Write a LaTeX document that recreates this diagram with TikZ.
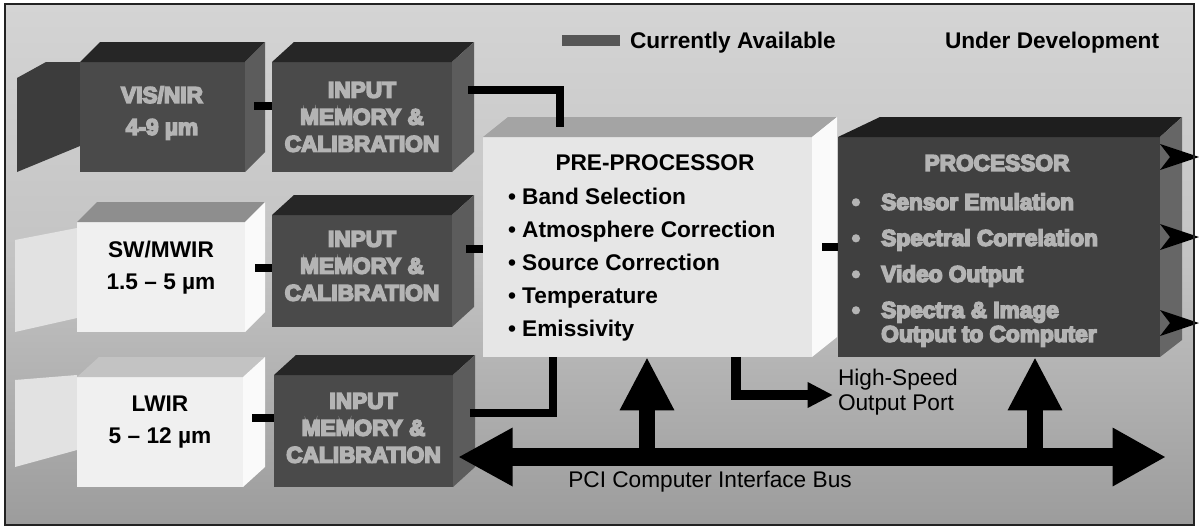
\documentclass[tikz,border=0pt]{standalone}
\usepackage{fontspec}
\setmainfont{Liberation Sans}
\usetikzlibrary{calc,arrows.meta}
\definecolor{bgtop}{HTML}{D4D4D4}
\definecolor{bgmid}{HTML}{C3C3C3}
\definecolor{bgbot}{HTML}{9C9C9C}
\definecolor{framec}{HTML}{222222}
\definecolor{dkfront}{HTML}{4A4A4A}
\definecolor{dktop}{HTML}{262626}
\definecolor{dkside}{HTML}{5C5C5C}
\definecolor{lensdark}{HTML}{3C3C3C}
\definecolor{ltfront}{HTML}{F0F0F0}
\definecolor{lttop}{HTML}{8E8E8E}
\definecolor{ltside}{HTML}{FAFAFA}
\definecolor{lenslight}{HTML}{E2E2E2}
\definecolor{prefront}{HTML}{E6E6E6}
\definecolor{pretop}{HTML}{A4A4A4}
\definecolor{procfront}{HTML}{404040}
\definecolor{proctop}{HTML}{1E1E1E}
\definecolor{procside}{HTML}{666666}
\definecolor{embfill}{HTML}{B4B4B4}
\definecolor{swatchc}{HTML}{565656}
\newcommand\boldf{\fontsize{17}{20.25}\selectfont\bfseries}
\newcommand\camf{\fontsize{17}{24}\selectfont\bfseries}
\newcommand\listf{\fontsize{17}{24.75}\selectfont\bfseries}
\newcommand\procf{\fontsize{17}{18}\selectfont\bfseries}
\newcommand\plainf{\fontsize{17}{18.75}\selectfont}
\newcommand\cubefaces[5]{%
  \fill[#2] (#1.north west) -- ($(#1.north west)+(#4,-#5)$) -- ($(#1.north east)+(#4,-#5)$) -- (#1.north east) -- cycle;
  \fill[#3] (#1.north east) -- ($(#1.north east)+(#4,-#5)$) -- ($(#1.south east)+(#4,-#5)$) -- (#1.south east) -- cycle;}
\tikzset{
  front/.style={rectangle, inner sep=0pt, outer sep=0pt, draw=none},
  txt/.style={inner sep=0pt, outer sep=0pt, align=center},
  embossed/.style={text=embfill,
    execute at begin node={\special{pdf:literal direct 2 Tr 1.2 w 0 0 0 RG}},
    execute at end node={\special{pdf:literal direct 0 Tr}}},
  dashlink/.style={line width=6pt, black},
  conn/.style={line width=5.5pt, black},
  busline/.style={line width=13.5pt, black},
  upline/.style={line width=12.5pt, black},
}
\begin{document}
\begin{tikzpicture}[x=0.75pt,y=-0.75pt]
\useasboundingbox (0,0) rectangle (1199,529);
\fill[white] (0,0) rectangle (1199,529);
\shade[top color=bgtop, bottom color=bgbot, middle color=bgmid] (5,4) rectangle (1194,525);

% legend
\fill[swatchc] (562,35) rectangle (620,46);
\node[txt, font=\boldf, anchor=base west] (lega) at (630,48) {Currently Available};
\node[txt, font=\boldf, anchor=base west] (legb) at (945,48) {Under Development};

% lenses
\fill[lensdark] (17,78) -- (46,62) -- (80,62) -- (80,146) -- (17,172) -- cycle;
\fill[lenslight] (15,240) -- (77,228) -- (77,318) -- (15,332) -- cycle;
\fill[lenslight] (15,380) -- (77,375) -- (77,450) -- (15,467) -- cycle;

% camera boxes
\node[front, fill=dkfront, minimum width=123.75pt, minimum height=82.5pt] (vis) at (162.5,117) {};
\cubefaces{vis}{dktop}{dkside}{20}{20}
\node[front, fill=ltfront, minimum width=126pt, minimum height=82.5pt] (sw) at (161,277) {};
\cubefaces{sw}{lttop}{ltside}{20}{20}
\node[front, fill=ltfront, minimum width=124.5pt, minimum height=82.5pt] (lw) at (160,432) {};
\cubefaces{lw}{bgmid}{ltside}{22}{20}

% input memory boxes
\node[front, fill=dkfront, minimum width=135pt, minimum height=82.5pt] (im1) at (362,117) {};
\cubefaces{im1}{dktop}{dkside}{22}{20}
\node[front, fill=dkfront, minimum width=135pt, minimum height=84pt] (im2) at (362,271) {};
\cubefaces{im2}{dktop}{dkside}{22}{20}
\node[front, fill=dkfront, minimum width=134.25pt, minimum height=84pt] (im3) at (363.5,431) {};
\cubefaces{im3}{dktop}{dkside}{22}{20}

% pre-processor
\node[front, fill=prefront, minimum width=246.75pt, minimum height=165pt] (pre) at (647.5,247) {};
\cubefaces{pre}{pretop}{ltside}{25}{20}

% processor
\node[front, fill=procfront, minimum width=241.5pt, minimum height=165pt] (proc) at (999,247) {};
\fill[proctop] (proc.north west) -- ++(42,-20) -- ($(proc.north east)+(22,-20)$) -- (proc.north east) -- cycle;
\fill[procside] (proc.north east) -- ++(22,-20) -- ($(proc.south east)+(22,-17)$) -- (proc.south east) -- cycle;

% texts
\node[txt, font=\camf, embossed] (vist) at (162,113) {VIS/NIR\\4-9 µm};
\node[txt, font=\camf] (swt) at (161,268) {SW/MWIR\\1.5 – 5 µm};
\node[txt, font=\camf] (lwt) at (160,422) {LWIR\\5 – 12 µm};
\node[txt, font=\boldf, embossed] (im1t) at (im1) {INPUT\\MEMORY \&\\CALIBRATION};
\node[txt, font=\boldf, embossed] (im2t) at (362,266) {INPUT\\MEMORY \&\\CALIBRATION};
\node[txt, font=\boldf, embossed] (im3t) at (363.5,428) {INPUT\\MEMORY \&\\CALIBRATION};
\node[txt, font=\boldf] (pret) at (655,163) {PRE-PROCESSOR};
\node[txt, font=\listf, align=left, anchor=north west] (prel) at (508,188)
  {• Band Selection\\• Atmosphere Correction\\• Source Correction\\• Temperature\\• Emissivity};
\node[txt, font=\boldf, embossed] (proct) at (997,163) {PROCESSOR};
\node[txt, font=\procf, embossed, anchor=north west] (procl) at (852,193)
  {\begin{tabular}{@{}l@{\hspace{16pt}}l@{}}
   •&Sensor Emulation\\[9pt]
   •&Spectral Correlation\\[9pt]
   •&Video Output\\[9pt]
   •&Spectra \& Image\\
    &Output to Computer
  \end{tabular}};

% short links
\coordinate (d1) at (254,106);
\draw[dashlink] (d1) -- (d1 -| im1.west);
\coordinate (d2) at (255,268);
\draw[dashlink] (d2) -- (d2 -| im2.west);
\coordinate (d3) at (252,418);
\draw[dashlink] (d3) -- (d3 -| im3.west);
\coordinate (d4) at (466,249);
\draw[dashlink] (d4) -- (d4 -| pre.west);
\coordinate (d5) at (822,247);
\draw[dashlink] (d5) -- (d5 -| proc.west);

% connectors to pre-processor
\coordinate (c1) at (468,90);
\coordinate (c1e) at (560,127);
\draw[conn] (c1) -| (c1e);
\coordinate (c3) at (470,413);
\draw[line width=6pt] (c3) -| (pre.south -| 553,0);

% high-speed output
\coordinate (hsT) at (833,395);
\draw[line width=7.5pt, -{Triangle[length=19pt,width=18pt]}] (pre.south -| 736,0) |- (hsT);
\node[txt, font=\plainf, align=left, anchor=west] (hst) at (838,392) {High-Speed\\Output Port};

% bus
\coordinate (busL) at (458,457);
\coordinate (busR) at (1166,457);
\draw[busline, {Triangle[length=41pt,width=41pt]}-{Triangle[length=40pt,width=41pt]}] (busL) -- (busR);
\coordinate (u1) at (647,457);
\coordinate (u2) at (1035,457);
\draw[upline, -{Triangle[length=40pt,width=38pt]}] (u1) -- (u1 |- pre.south);
\draw[upline, -{Triangle[length=40pt,width=38pt]}] (u2) -- (u2 |- proc.south);
\node[txt, font=\plainf] (bust) at (710,482) {PCI Computer Interface Bus};

% processor outputs
\foreach \yy/\nm in {157/o1,237/o2,323/o3}{
  \coordinate (\nm) at (1199,\yy);
  \fill (\nm) -- ++(-39,-13) -- ++(10,13) -- ++(-10,13) -- cycle;
}

% frame
\draw[line width=1.5pt, framec] (5,4) rectangle (1194,525);
\end{tikzpicture}
\end{document}
